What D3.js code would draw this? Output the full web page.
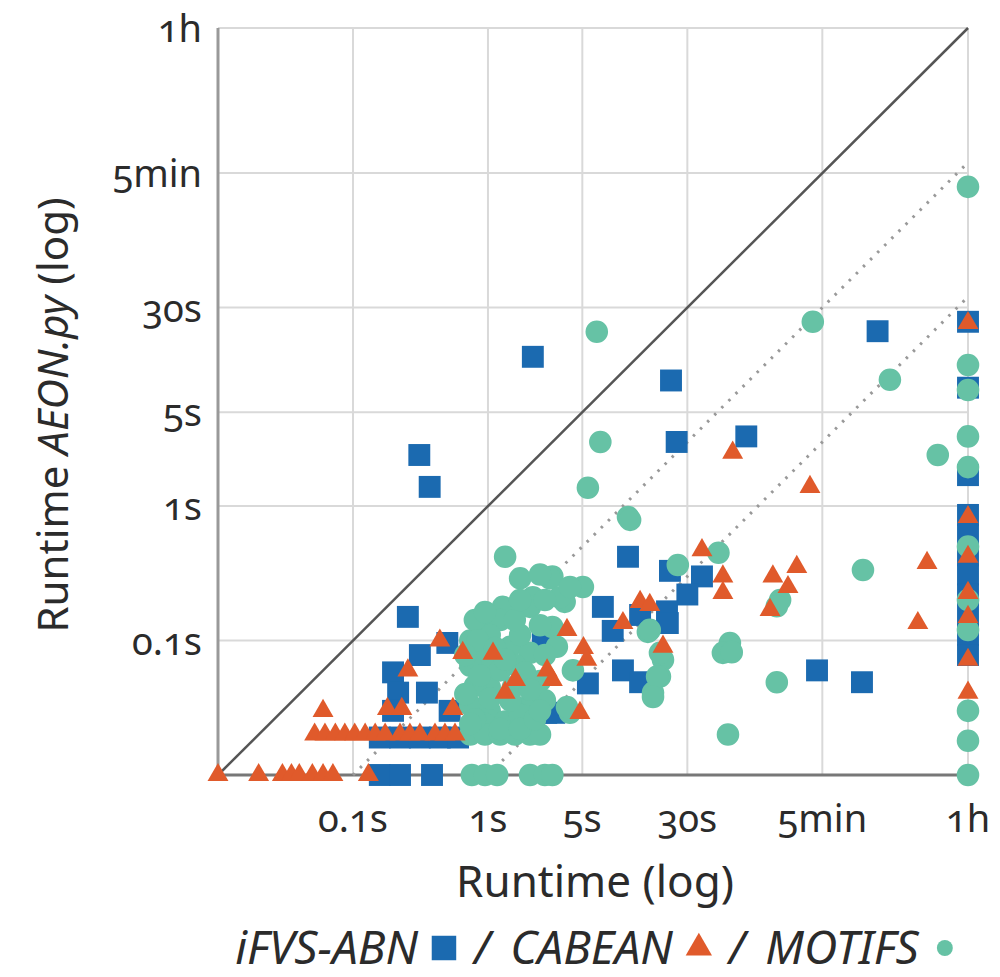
<!DOCTYPE html>
<html>
<head>
<meta charset="utf-8">
<script src="https://cdn.jsdelivr.net/npm/d3@7"></script>
<style>
  body { margin: 0; background: #fff; }
  text { font-family: "Noto Sans", "Open Sans", sans-serif; font-variant-numeric: oldstyle-nums; fill: #2b2b2b; }
</style>
</head>
<body>
<script>
    // runtime (s) of the other tool vs runtime (s) of AEON.py, 3600 = timeout
    var ifvs = [[2.15, 12.9], [0.31, 2.4], [0.37, 1.39], [22.7, 8.6], [25, 3.0], [82, 3.3], [770, 20],
      [10.9, 0.42], [22.3, 0.33], [38.5, 0.30], [30, 0.22], [7.1, 0.178], [8.4, 0.118], [13.4, 0.155],
      [21.2, 0.165], [21.5, 0.135], [10, 0.06], [13.4, 0.049], [5.5, 0.048], [3.1, 0.029], [2.7, 0.029],
      [274, 0.06], [590, 0.049], [0.255, 0.15], [0.198, 0.058], [0.313, 0.078], [0.5, 0.096],
      [0.216, 0.041], [0.353, 0.041], [0.52, 0.03], [0.198, 0.03], [0.158, 0.019], [0.223, 0.019],
      [0.313, 0.019], [0.44, 0.019], [0.6, 0.019], [0.158, 0.01], [0.223, 0.01], [0.385, 0.01],
      [2.55, 0.098], [3600, 23.5], [3600, 7.6], [3600, 1.7], [3600, 0.86], [3600, 0.61], [3600, 0.43],
      [3600, 0.31], [3600, 0.22], [3600, 0.155], [3600, 0.11], [3600, 0.078]];

    var cabean = [[0.01, 0.01], [0.02, 0.01], [0.03, 0.01], [0.035, 0.01], [0.04, 0.01], [0.05, 0.01],
      [0.06, 0.01], [0.071, 0.01], [0.13, 0.01], [0.052, 0.02], [0.062, 0.02], [0.074, 0.02],
      [0.087, 0.02], [0.103, 0.02], [0.123, 0.02], [0.146, 0.02], [0.173, 0.02], [0.223, 0.02],
      [0.264, 0.02], [0.313, 0.02], [0.405, 0.02], [0.48, 0.02], [0.57, 0.02], [0.06, 0.03],
      [0.255, 0.06], [0.44, 0.1], [0.18, 0.031], [0.23, 0.031], [0.55, 0.031], [0.65, 0.081],
      [1.09, 0.08], [1.34, 0.041], [1.6, 0.051], [2.74, 0.06], [3.0, 0.051], [3.85, 0.12], [5.1, 0.088],
      [5.4, 0.072], [4.8, 0.029], [10, 0.135], [13.4, 0.194], [15.8, 0.184], [19.8, 0.09], [38.5, 0.47],
      [55, 0.3], [55, 0.226], [65, 2.5], [243, 1.39], [129, 0.3], [194, 0.353], [167, 0.25],
      [123, 0.169], [1790, 0.378], [1530, 0.135], [3600, 23], [3600, 0.83], [3600, 0.42],
      [3600, 0.226], [3600, 0.15], [3600, 0.072], [3600, 0.041]];

    var motifs = [[6.4, 19.8], [255, 23.5], [950, 8.7], [6.8, 3.0], [5.5, 1.37], [2150, 2.4], [10.9, 0.83],
      [51, 0.45], [25.5, 0.365], [600, 0.335], [146, 0.2], [138, 0.18], [15.3, 0.116], [62, 0.096],
      [55, 0.081], [64, 0.082], [19.8, 0.072], [18.8, 0.054], [16.7, 0.041], [138, 0.049], [60, 0.02],
      [5.05, 0.25], [3.7, 0.194], [3.0, 0.3], [4.05, 0.029], [11.3, 0.79], [1.34, 0.42], [1.73, 0.29],
      [2.88, 0.29], [2.15, 0.21], [3.4, 0.21], [4.05, 0.25], [1.29, 0.178], [0.98, 0.15], [2.05, 0.178],
      [3.0, 0.126], [1.23, 0.142], [1.46, 0.09], [2.05, 0.081], [3.24, 0.09], [4.26, 0.06], [0.98, 0.072],
      [1.03, 0.045], [1.53, 0.045], [1.94, 0.032], [15.8, 0.12], [18.8, 0.081], [17.9, 0.054],
      [16.7, 0.038], [3.85, 0.032], [0.74, 0.1], [0.87, 0.085], [0.74, 0.065], [0.8, 0.046],
      [0.74, 0.033], [1.03, 0.03], [1.34, 0.025], [1.73, 0.028], [0.95, 0.024], [1.23, 0.06],
      [1.58, 0.066], [2.43, 0.05], [2.64, 0.036], [1.73, 0.11], [2.43, 0.13], [1.03, 0.11], [0.8, 0.142],
      [0.68, 0.04], [0.74, 0.02], [0.95, 0.02], [1.23, 0.02], [1.58, 0.02], [2.05, 0.02], [2.43, 0.02],
      [0.84, 0.1], [1.13, 0.088], [1.34, 0.072], [1.88, 0.058], [0.87, 0.055], [1.03, 0.037],
      [1.46, 0.036], [2.05, 0.043], [0.8, 0.026], [1.23, 0.022], [1.73, 0.022], [2.23, 0.026],
      [0.68, 0.078], [0.74, 0.024], [2.43, 0.03], [0.95, 0.163], [1.58, 0.142], [2.64, 0.078],
      [1.73, 0.2], [2.64, 0.2], [2.43, 0.31],
      [0.76, 0.01], [0.95, 0.01], [1.17, 0.01], [2.05, 0.01], [2.64, 0.01], [3.0, 0.01],
      [3600, 237], [3600, 11.2], [3600, 7.3], [3600, 3.3], [3600, 1.95], [3600, 0.5], [3600, 0.2],
      [3600, 0.12], [3600, 0.03], [3600, 0.018], [3600, 0.01]];

    var tickValues = [0.1, 1, 5, 30, 300, 3600];
    var tickLabels = ['0.1s', '1s', '5s', '30s', '5min', '1h'];
    var ratios = [1, 10, 100]; // y = x / ratio

    var width = 1000, height = 977;
    var margin = {top: 28, right: 32, bottom: 202, left: 218};

    var svg = d3.select("body").append("svg")
      .attr("width", width)
      .attr("height", height);

    var x = d3.scaleLog().domain([0.01, 3600]).range([margin.left, width - margin.right]);
    var y = d3.scaleLog().domain([0.01, 3600]).range([height - margin.bottom, margin.top]);

    // grid
    var grid = svg.append("g").attr("stroke", "#d9d9d9").attr("stroke-width", 2);
    grid.selectAll(".gx").data(tickValues).enter().append("line")
      .attr("x1", d => x(d)).attr("x2", d => x(d))
      .attr("y1", y(0.01)).attr("y2", y(3600));
    grid.selectAll(".gy").data(tickValues).enter().append("line")
      .attr("y1", d => y(d)).attr("y2", d => y(d))
      .attr("x1", x(0.01)).attr("x2", x(3600));

    // axes lines
    svg.append("line")
      .attr("x1", x(0.01)).attr("x2", x(0.01)).attr("y1", y(0.01)).attr("y2", y(3600))
      .attr("stroke", "#999").attr("stroke-width", 3);
    svg.append("line")
      .attr("x1", x(0.01)).attr("x2", x(3600)).attr("y1", y(0.01)).attr("y2", y(0.01))
      .attr("stroke", "#777").attr("stroke-width", 3);

    // diagonal reference lines
    svg.append("g").selectAll("line").data(ratios).enter().append("line")
      .attr("x1", d => x(0.01 * d)).attr("y1", y(0.01))
      .attr("x2", x(3600)).attr("y2", d => y(3600 / d))
      .attr("stroke", d => d == 1 ? "#555" : "#999")
      .attr("stroke-width", d => d == 1 ? 2.5 : 3)
      .attr("stroke-dasharray", d => d == 1 ? null : "2.5 7.5");

    // tick labels
    svg.append("g").selectAll("text").data(tickValues).enter().append("text")
      .attr("x", d => x(d))
      .attr("y", y(0.01) + 57)
      .attr("text-anchor", "middle")
      .attr("font-size", 38)
      .text((d, i) => tickLabels[i]);
    svg.append("g").selectAll("text").data(tickValues).enter().append("text")
      .attr("x", margin.left - 16)
      .attr("y", d => y(d) + 14)
      .attr("text-anchor", "end")
      .attr("font-size", 38)
      .text((d, i) => tickLabels[i]);

    // axis titles
    svg.append("text")
      .attr("x", 595).attr("y", 897)
      .attr("text-anchor", "middle")
      .attr("font-size", 44)
      .text("Runtime (log)");
    var yt = svg.append("text")
      .attr("transform", "translate(68,415) rotate(-90)")
      .attr("text-anchor", "middle")
      .attr("font-size", 42);
    yt.append("tspan").text("Runtime ");
    yt.append("tspan").attr("font-style", "italic").text("AEON.py");
    yt.append("tspan").text(" (log)");

    // points
    var series = [
      {name: "iFVS-ABN", data: ifvs, color: "#1b6ab0", symbol: d3.symbolSquare, size: 480},
      {name: "MOTIFS", data: motifs, color: "#66c2a5", symbol: d3.symbolCircle, size: 400},
      {name: "CABEAN", data: cabean, color: "#e05a2b", symbol: d3.symbolTriangle, size: 190}
    ];
    series.forEach(function(s) {
      svg.append("g").selectAll("path").data(s.data).enter().append("path")
        .attr("transform", d => "translate(" + x(d[0]) + "," + y(d[1]) + ")")
        .attr("d", d3.symbol().type(s.symbol).size(s.size))
        .attr("fill", s.color);
    });

    // legend
    var legend = [
      {text: "iFVS-ABN", color: "#1b6ab0", symbol: d3.symbolSquare, size: 600},
      {text: "CABEAN", color: "#e05a2b", symbol: d3.symbolTriangle, size: 300},
      {text: "MOTIFS", color: "#66c2a5", symbol: d3.symbolCircle, size: 200}
    ];
    var lg = svg.append("g");
    var cx = 0, ly = 964;
    legend.forEach(function(l, i) {
      var t = lg.append("text").attr("x", cx).attr("y", ly)
        .attr("font-size", 46).attr("font-style", "italic").text(l.text);
      cx += t.node().getComputedTextLength() + 26;
      lg.append("path")
        .attr("transform", "translate(" + cx + "," + (ly - 16) + ")")
        .attr("d", d3.symbol().type(l.symbol).size(l.size))
        .attr("fill", l.color);
      cx += 30;
      if (i < legend.length - 1) {
        var sl = lg.append("text").attr("x", cx).attr("y", ly)
          .attr("font-size", 46).attr("font-style", "italic").text("/");
        cx += sl.node().getComputedTextLength() + 20;
      }
    });
    lg.attr("transform", "translate(" + (600 - cx / 2 + 5) + ",0)");
</script>
</body>
</html>
